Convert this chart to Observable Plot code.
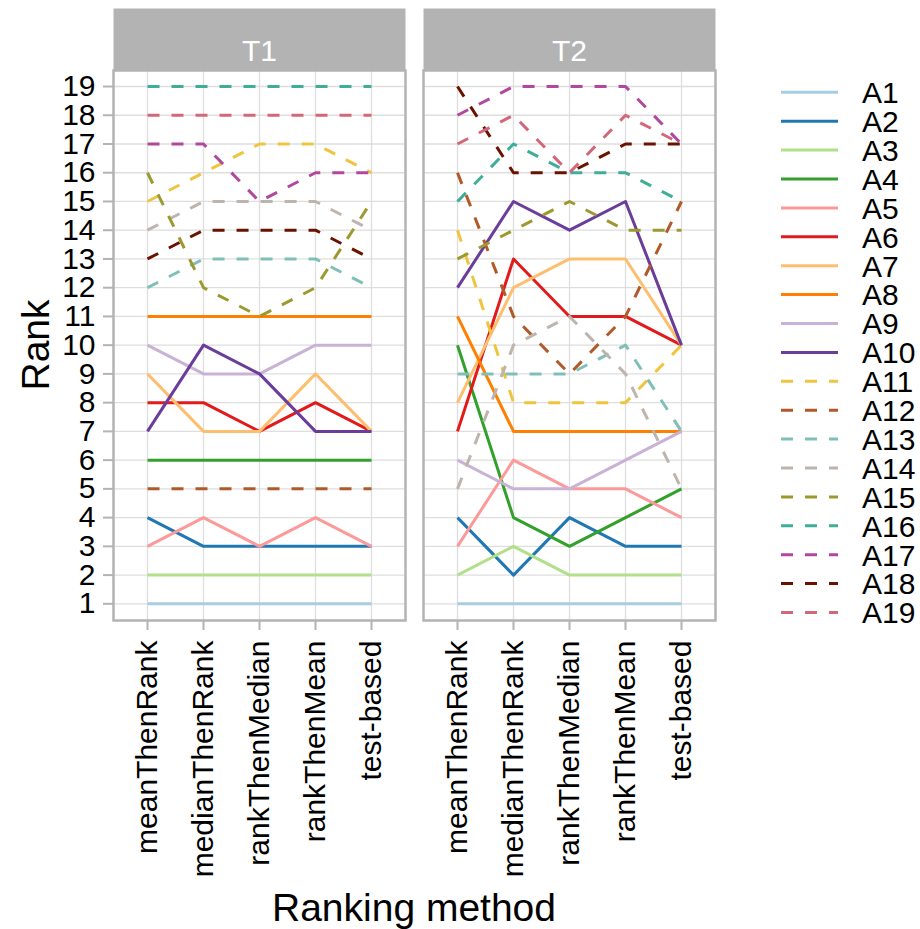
<!DOCTYPE html>
<html>
<head>
<meta charset="utf-8">
<script src="https://cdn.jsdelivr.net/npm/d3@7"></script>
<script src="https://cdn.jsdelivr.net/npm/@observablehq/plot@0.6"></script>
<style>
  html, body { margin: 0; padding: 0; background: #fff; }
  #chart { width: 920px; height: 929px; }
</style>
</head>
<body>
<div id="chart"></div>
<script>
// Ranking methods (x axis), panels and algorithms
const methods = ["meanThenRank", "medianThenRank", "rankThenMedian", "rankThenMean", "test-based"];
const panels = ["T1", "T2"];
const algorithms = ["A1", "A2", "A3", "A4", "A5", "A6", "A7", "A8", "A9", "A10",
                    "A11", "A12", "A13", "A14", "A15", "A16", "A17", "A18", "A19"];

// Rank of each algorithm (rows A1..A19) under each method (columns), task T1
const ranksT1 = [
  [1, 1, 1, 1, 1],
  [4, 3, 3, 3, 3],
  [2, 2, 2, 2, 2],
  [6, 6, 6, 6, 6],
  [3, 4, 3, 4, 3],
  [8, 8, 7, 8, 7],
  [9, 7, 7, 9, 7],
  [11, 11, 11, 11, 11],
  [10, 9, 9, 10, 10],
  [7, 10, 9, 7, 7],
  [15, 16, 17, 17, 16],
  [5, 5, 5, 5, 5],
  [12, 13, 13, 13, 12],
  [14, 15, 15, 15, 14],
  [16, 12, 11, 12, 15],
  [19, 19, 19, 19, 19],
  [17, 17, 15, 16, 16],
  [13, 14, 14, 14, 13],
  [18, 18, 18, 18, 18]
];

// Same for task T2
const ranksT2 = [
  [1, 1, 1, 1, 1],
  [4, 2, 4, 3, 3],
  [2, 3, 2, 2, 2],
  [10, 4, 3, 4, 5],
  [3, 6, 5, 5, 4],
  [7, 13, 11, 11, 10],
  [8, 12, 13, 13, 10],
  [11, 7, 7, 7, 7],
  [6, 5, 5, 6, 7],
  [12, 15, 14, 15, 10],
  [14, 8, 8, 8, 10],
  [16, 11, 9, 11, 15],
  [9, 9, 9, 10, 7],
  [5, 10, 11, 9, 5],
  [13, 14, 15, 14, 14],
  [15, 17, 16, 16, 15],
  [18, 19, 19, 19, 17],
  [19, 16, 16, 17, 17],
  [17, 18, 16, 18, 17]
];

const rankTicks = [1, 2, 3, 4, 5, 6, 7, 8, 9, 10, 11, 12, 13, 14, 15, 16, 17, 18, 19];

const colors = ["#A6CEE3", "#1F78B4", "#B2DF8A", "#33A02C", "#FB9A99", "#E31A1C", "#FDBF6F", "#FF7F00", "#CAB2D6", "#6A3D9A",
                "#EFC43E", "#B15928", "#7FBFB8", "#BDB4AD", "#9C9A2F", "#3FAE98", "#B2479F", "#6A1200", "#D3677A"];
const lineTypes = ["solid", "solid", "solid", "solid", "solid", "solid", "solid", "solid", "solid", "solid",
                   "dashed", "dashed", "dashed", "dashed", "dashed", "dashed", "dashed", "dashed", "dashed"];

// Long-format table for Plot
const tables = {T1: ranksT1, T2: ranksT2};
const rows = [];
for (const p of panels) {
  algorithms.forEach((a, ai) => {
    methods.forEach((m, mi) => {
      rows.push({panel: p, algorithm: a, method: m, rank: tables[p][ai][mi], type: lineTypes[ai]});
    });
  });
}

const FONT = "'Liberation Sans', Arial, Helvetica, sans-serif";
const GRID = "#DEDEDE";
const BORDER = "#B3B3B3";
const DASH = "12,12";

const W = 920, H = 929;
const mL = 113, mT = 70, mR = 205, mB = 309;
const stripH = 62;
const plotH = H - mT - mB;

const lineOpts = {fx: "panel", x: "method", y: "rank", z: "algorithm", stroke: "algorithm",
                  strokeWidth: 3, strokeLinecap: "butt", strokeLinejoin: "round"};

const chart = Plot.plot({
  width: W,
  height: H,
  marginLeft: mL,
  marginTop: mT,
  marginRight: mR,
  marginBottom: mB,
  style: {fontFamily: FONT, fontSize: "30px", background: "white", color: "black", overflow: "visible"},
  fx: {domain: panels, paddingInner: 18 / 310, paddingOuter: 0, axis: null},
  x: {type: "point", domain: methods, padding: 0.6, axis: null},
  y: {domain: [0.42, 19.557], axis: null},
  color: {domain: algorithms, range: colors},
  marks: [
    Plot.gridY(rankTicks, {stroke: GRID, strokeOpacity: 1, strokeWidth: 1.3}),
    Plot.gridX(methods, {stroke: GRID, strokeOpacity: 1, strokeWidth: 1.3}),
    Plot.line(rows.filter(d => d.type === "solid"), lineOpts),
    Plot.line(rows.filter(d => d.type === "dashed"), {...lineOpts, strokeDasharray: DASH}),
    Plot.frame({stroke: BORDER, strokeWidth: 2.5}),
    // facet strips
    Plot.frame({fill: BORDER, stroke: "none", insetTop: -stripH, insetBottom: plotH}),
    Plot.text(panels, {fx: d => d, text: d => d, frameAnchor: "top", dy: -stripH / 2,
                       fill: "white", fontSize: 30, fontFamily: FONT}),
    Plot.axisY(rankTicks, {tickSize: 10, tickPadding: 8, stroke: BORDER, strokeWidth: 2,
                           fill: "black", fontSize: 30, label: null}),
    Plot.axisX(methods, {tickSize: 10, tickPadding: 10, tickRotate: -90, stroke: BORDER, strokeWidth: 2,
                         fill: "black", fontSize: 30, label: null})
  ]
});

document.getElementById("chart").appendChild(chart);

// Axis titles and legend
const svg = d3.select(chart);
const color = chart.scale("color");

svg.append("text")
  .attr("transform", `translate(49,345) rotate(-90)`)
  .attr("text-anchor", "middle")
  .attr("font-family", FONT)
  .attr("font-size", 39)
  .attr("fill", "black")
  .text("Rank");

svg.append("text")
  .attr("x", 414)
  .attr("y", 921)
  .attr("text-anchor", "middle")
  .attr("font-family", FONT)
  .attr("font-size", 39)
  .attr("fill", "black")
  .text("Ranking method");

const legend = svg.append("g")
  .attr("font-family", FONT)
  .attr("font-size", 30)
  .attr("text-anchor", "start");
algorithms.forEach((a, i) => {
  const cy = 92.3 + i * 28.9;
  legend.append("line")
    .attr("x1", 781).attr("x2", 838)
    .attr("y1", cy).attr("y2", cy)
    .attr("stroke", color.apply(a))
    .attr("stroke-width", 3)
    .attr("stroke-dasharray", lineTypes[i] === "dashed" ? DASH : null);
  legend.append("text")
    .attr("x", 862)
    .attr("y", cy)
    .attr("dy", "0.36em")
    .attr("text-anchor", "start")
    .attr("fill", "black")
    .text(a);
});
</script>
</body>
</html>
